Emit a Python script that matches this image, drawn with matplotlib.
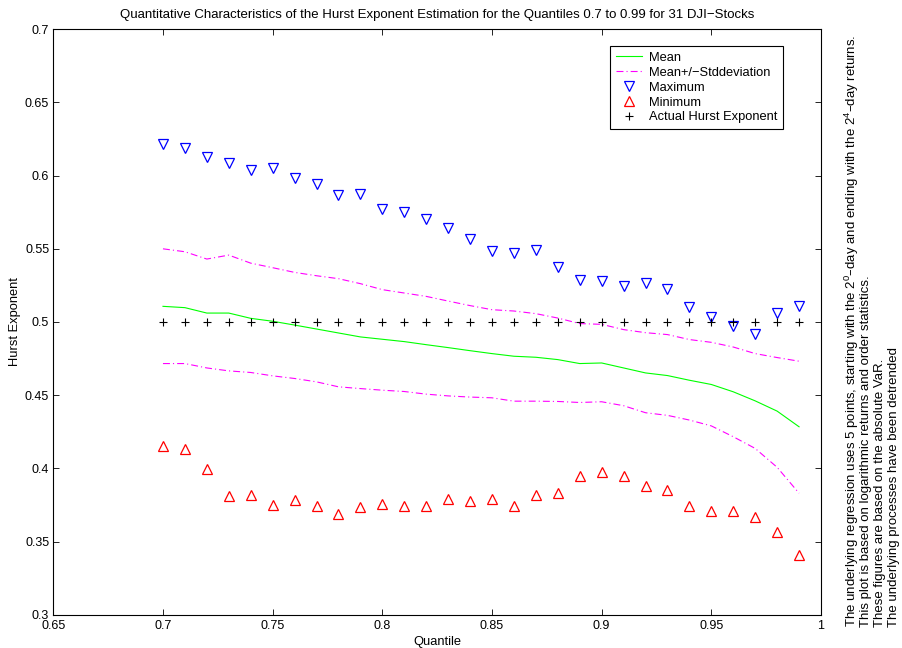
import matplotlib
matplotlib.use("Agg")
import matplotlib.pyplot as plt
import numpy as np

plt.rcParams["font.family"] = ["Liberation Sans", "DejaVu Sans"]
plt.rcParams["font.size"] = 9.3
plt.rcParams["mathtext.default"] = "regular"
plt.rcParams["lines.scale_dashes"] = False

# Quantiles 0.70 ... 0.99
quantiles = [0.70, 0.71, 0.72, 0.73, 0.74, 0.75, 0.76, 0.77, 0.78, 0.79,
             0.80, 0.81, 0.82, 0.83, 0.84, 0.85, 0.86, 0.87, 0.88, 0.89,
             0.90, 0.91, 0.92, 0.93, 0.94, 0.95, 0.96, 0.97, 0.98, 0.99]

mean_h = [0.5107, 0.5098, 0.5061, 0.5061, 0.5025, 0.5005, 0.4979, 0.4952, 0.4925, 0.4898,
          0.4882, 0.4866, 0.4845, 0.4825, 0.4804, 0.4784, 0.4766, 0.4759, 0.4743, 0.4716,
          0.4720, 0.4686, 0.4652, 0.4634, 0.4602, 0.4573, 0.4523, 0.4461, 0.4391, 0.4284]

upper_std = [0.5500, 0.5480, 0.5430, 0.5457, 0.5402, 0.5371, 0.5339, 0.5316, 0.5296, 0.5262,
             0.5221, 0.5198, 0.5175, 0.5143, 0.5112, 0.5084, 0.5075, 0.5057, 0.5027, 0.4989,
             0.4984, 0.4948, 0.4927, 0.4914, 0.4880, 0.4861, 0.4829, 0.4784, 0.4757, 0.4732]

lower_std = [0.4716, 0.4716, 0.4686, 0.4666, 0.4655, 0.4632, 0.4614, 0.4591, 0.4557, 0.4545,
             0.4534, 0.4525, 0.4507, 0.4495, 0.4487, 0.4482, 0.4459, 0.4459, 0.4457, 0.4450,
             0.4455, 0.4428, 0.4380, 0.4362, 0.4330, 0.4290, 0.4216, 0.4136, 0.4007, 0.3830]

max_h = [0.6216, 0.6186, 0.6130, 0.6089, 0.6041, 0.6052, 0.5982, 0.5943, 0.5866, 0.5873,
         0.5770, 0.5752, 0.5702, 0.5641, 0.5568, 0.5487, 0.5468, 0.5489, 0.5375, 0.5289,
         0.5282, 0.5243, 0.5264, 0.5227, 0.5102, 0.5032, 0.4975, 0.4920, 0.5061, 0.5107]

min_h = [0.4154, 0.4133, 0.3997, 0.3810, 0.3818, 0.3747, 0.3783, 0.3741, 0.3685, 0.3735,
         0.3758, 0.3740, 0.3744, 0.3788, 0.3779, 0.3789, 0.3743, 0.3820, 0.3830, 0.3950,
         0.3974, 0.3948, 0.3880, 0.3852, 0.3743, 0.3711, 0.3707, 0.3670, 0.3568, 0.3411]

actual_h = [0.5] * len(quantiles)

xticks = [0.65, 0.7, 0.75, 0.8, 0.85, 0.9, 0.95, 1.0]
yticks = [0.3, 0.35, 0.4, 0.45, 0.5, 0.55, 0.6, 0.65, 0.7]

notes = [
    "The underlying regression uses 5 points, starting with the 2$^0$\u2013day and ending with the 2$^4$\u2013day returns.",
    "This plot is based on logarithmic returns and order statistics.",
    "These figures are based on the absolute VaR.",
    "The underlying processes have been detrended",
]

fig = plt.figure(figsize=(9.02, 6.48), dpi=100)
ax = fig.add_axes([0.0591, 0.0514, 0.8511, 0.9034])

dashdot = (0, (5.0, 2.2, 0.8, 2.2))
ax.plot(quantiles, mean_h, color="#00ff00", lw=0.8, label="Mean")
ax.plot(quantiles, upper_std, color="#ff00ff", lw=0.8, ls=dashdot, label="Mean+/\u2212Stddeviation")
ax.plot(quantiles, lower_std, color="#ff00ff", lw=0.8, ls=dashdot)
ax.plot(quantiles, max_h, ls="none", marker="v", ms=6.5, mfc="none", mec="#0000ff",
        mew=0.9, label="Maximum")
ax.plot(quantiles, min_h, ls="none", marker="^", ms=6.5, mfc="none", mec="#ff0000",
        mew=0.9, label="Minimum")
ax.plot(quantiles, actual_h, ls="none", marker="+", ms=6, mec="black", mew=0.8,
        label="Actual Hurst Exponent")

ax.set_xlim(0.65, 1.0)
ax.set_ylim(0.3, 0.7)
ax.set_xticks(xticks)
ax.set_xticklabels(["%g" % t for t in xticks])
ax.set_yticks(yticks)
ax.set_yticklabels(["%g" % t for t in yticks])
ax.tick_params(direction="in", top=True, right=True, length=4, width=0.6,
               labelsize=9)
ax.tick_params(axis="x", pad=4)
ax.tick_params(axis="y", pad=3)
for s in ax.spines.values():
    s.set_linewidth(0.8)

ax.set_xlabel("Quantile", labelpad=3)
ax.set_ylabel("Hurst Exponent", labelpad=3)
ax.set_title("Quantitative Characteristics of the Hurst Exponent Estimation for the "
             "Quantiles 0.7 to 0.99 for 31 DJI\u2212Stocks", fontsize=9.5, pad=8)

leg = ax.legend(loc="upper right", bbox_to_anchor=(783 / 902, 1 - 46 / 648),
                bbox_transform=fig.transFigure, borderaxespad=0, fancybox=False,
                framealpha=1, edgecolor="black", handlelength=2.0,
                labelspacing=0.22, borderpad=0.45, handletextpad=0.55)
leg.get_frame().set_linewidth(0.8)

for i, line in enumerate(notes):
    fig.text((852 + 14 * i) / 902, 1 - 627 / 648, line, rotation=90,
             ha="center", va="bottom", fontsize=9.5)

fig.savefig("out.png", dpi=100)
